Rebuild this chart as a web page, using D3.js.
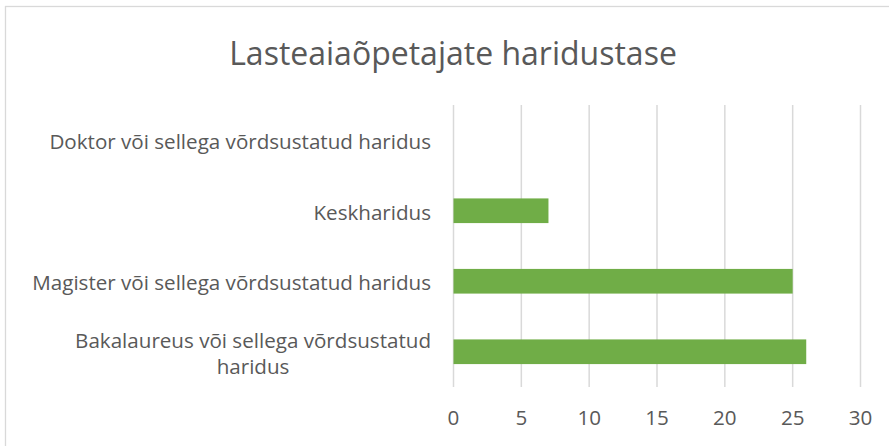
<!DOCTYPE html>
<html>
<head>
<meta charset="utf-8">
<script src="https://cdn.jsdelivr.net/npm/d3@7"></script>
<style>
  html, body { margin: 0; padding: 0; background: #fff; }
  svg { display: block; }
</style>
</head>
<body>
<svg id="chart" width="889" height="446"></svg>
<script>
const title = "Lasteaiaõpetajate haridustase";
const categories = [
  "Doktor või sellega võrdsustatud haridus",
  "Keskharidus",
  "Magister või sellega võrdsustatud haridus",
  "Bakalaureus või sellega võrdsustatud haridus"
];
const values = [0, 7, 25, 26];
const xTicks = [0, 5, 10, 15, 20, 25, 30];

const W = 889, H = 446;
const FONT = "'Open Sans', 'Noto Sans', sans-serif";
const LABEL_SIZE = 20.6;
const textColor = "#595959";
const gridColor = "#d9d9d9";
const barColor = "#70ad47";

const svg = d3.select("#chart");

// chart border
svg.append("rect")
  .attr("x", 5.5).attr("y", 6.5)
  .attr("width", W + 10).attr("height", H + 10)
  .attr("fill", "#fff").attr("stroke", gridColor).attr("stroke-width", 1.3);

const plot = { left: 453, right: 860, top: 105, bottom: 387 };

const x = d3.scaleLinear().domain([0, 30]).range([plot.left, plot.right]);
const y = d3.scaleBand().domain(categories).range([plot.top, plot.bottom])
  .paddingInner(0.65).paddingOuter(0.325);

// title
svg.append("text")
  .attr("x", 453).attr("y", 52)
  .attr("text-anchor", "middle").attr("dominant-baseline", "central")
  .attr("font-family", FONT).attr("font-size", 32)
  .attr("fill", textColor)
  .text(title);

// gridlines + tick labels
const xAxis = d3.axisBottom(x).tickValues(xTicks).tickSize(-(plot.bottom - plot.top)).tickPadding(0);
const gx = svg.append("g").attr("transform", `translate(0,${plot.bottom})`).call(xAxis);
gx.select(".domain").remove();
gx.selectAll(".tick line").attr("stroke", gridColor).attr("stroke-width", 1.5);
gx.selectAll(".tick text")
  .attr("y", 30).attr("dy", null).attr("dominant-baseline", "central")
  .attr("font-family", FONT).attr("font-size", LABEL_SIZE)
  .attr("fill", textColor);

// bars
svg.append("g").selectAll("rect")
  .data(categories.map((c, i) => ({ c, v: values[i] })))
  .join("rect")
  .attr("x", x(0) + 0.5)
  .attr("y", d => y(d.c))
  .attr("width", d => Math.max(0, x(d.v) - x(0)))
  .attr("height", y.bandwidth())
  .attr("fill", d => d.v > 0 ? barColor : "none");

// category labels with wrapping
const labelRight = 431;
const maxLabelW = 420;
const lineH = 26;
const gy = svg.append("g");
categories.forEach(c => {
  const cy = y(c) + y.bandwidth() / 2;
  const t = gy.append("text")
    .attr("font-family", FONT).attr("font-size", LABEL_SIZE)
    .attr("fill", textColor)
    .attr("text-anchor", "middle").attr("dominant-baseline", "central");
  const words = c.split(" ");
  const lines = [];
  let cur = "";
  const probe = gy.append("text").attr("font-family", FONT).attr("font-size", LABEL_SIZE);
  words.forEach(w => {
    const test = cur ? cur + " " + w : w;
    probe.text(test);
    if (probe.node().getComputedTextLength() > maxLabelW && cur) {
      lines.push(cur); cur = w;
    } else cur = test;
  });
  lines.push(cur);
  let blockW = 0;
  lines.forEach(l => { probe.text(l); blockW = Math.max(blockW, probe.node().getComputedTextLength()); });
  probe.remove();
  const cx = labelRight - blockW / 2;
  const y0 = cy - (lines.length - 1) * lineH / 2 + 1;
  lines.forEach((l, i) => {
    t.append("tspan").attr("x", cx).attr("y", y0 + i * lineH).text(l);
  });
});
</script>
</body>
</html>
